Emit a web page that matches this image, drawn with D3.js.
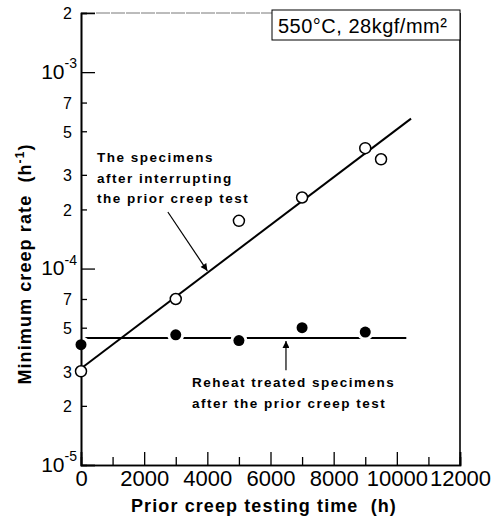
<!DOCTYPE html>
<html>
<head>
<meta charset="utf-8">
<script src="https://cdn.jsdelivr.net/npm/d3@7"></script>
<style>
  body { margin: 0; background: #fff; }
  .tick line { stroke: #000; stroke-width: 1.3; }
  .num { font-family: "Liberation Sans Narrow", "Arial Narrow", "Liberation Sans", sans-serif; fill: #000; }
  .note { font-family: "Liberation Sans", Arial, sans-serif; font-weight: bold; font-size: 13.5px; letter-spacing: 1.5px; fill: #000; }
  .title { font-family: "Liberation Sans", Arial, sans-serif; font-weight: bold; font-size: 18px; letter-spacing: 1.1px; fill: #000; }
</style>
</head>
<body>
<div id="vis"></div>
<script>
// specimens tested again after the prior creep test was interrupted
const interruptTime = [0, 3000, 5000, 7000, 9000, 9500];
const interruptRate = [3.0e-5, 7.0e-5, 1.75e-4, 2.3e-4, 4.1e-4, 3.6e-4];
// straight fit through the interrupted specimens
const interruptFitTime = [0, 10450];
const interruptFitRate = [3.1e-5, 5.8e-4];

// reheat treated specimens
const reheatTime = [0, 3000, 5000, 7000, 9000];
const reheatRate = [4.1e-5, 4.6e-5, 4.3e-5, 5.0e-5, 4.75e-5];
const reheatMeanTime = [0, 10300];
const reheatMeanRate = [4.43e-5, 4.43e-5];

const xMajorTicks = [0, 2000, 4000, 6000, 8000, 10000, 12000];
const xMinorTicks = [1000, 3000, 5000, 7000, 9000, 11000];
const yDecadeTicks = [1e-5, 1e-4, 1e-3];
const yMinorTicks = [2e-5, 3e-5, 5e-5, 7e-5, 2e-4, 3e-4, 5e-4, 7e-4, 2e-3];

const WIDTH = 495;
const HEIGHT = 522;
const MARGIN = { LEFT: 81, RIGHT: 35, TOP: 13, BOTTOM: 57 };

const x = d3.scaleLinear()
  .domain([0, 12000])
  .range([MARGIN.LEFT, WIDTH - MARGIN.RIGHT]);

const y = d3.scaleLog()
  .domain([1e-5, 2e-3])
  .range([HEIGHT - MARGIN.BOTTOM, MARGIN.TOP]);

const svg = d3.select("#vis")
  .append("svg")
  .attr("width", WIDTH)
  .attr("height", HEIGHT);

const pairs = (xs, ys) => xs.map((v, i) => [v, ys[i]]);
const line = d3.line().x(d => x(d[0])).y(d => y(d[1]));

// rate on the fitted line at a given time (log-linear)
function fitRate(t) {
  const l0 = Math.log10(interruptFitRate[0]);
  const l1 = Math.log10(interruptFitRate[1]);
  const f = (t - interruptFitTime[0]) / (interruptFitTime[1] - interruptFitTime[0]);
  return Math.pow(10, l0 + f * (l1 - l0));
}

// frame: faint top line, solid right side
svg.append("line")
  .attr("x1", x(0)).attr("x2", x(12000))
  .attr("y1", y(2e-3)).attr("y2", y(2e-3))
  .attr("stroke", "#555").attr("stroke-width", 0.8)
  .attr("stroke-dasharray", "14 1");
svg.append("line")
  .attr("x1", x(12000)).attr("x2", x(12000))
  .attr("y1", y(2e-3)).attr("y2", y(1e-5))
  .attr("stroke", "#000").attr("stroke-width", 1.6);

// reheat mean line, broken by white halos round the dots
svg.append("path")
  .datum(pairs(reheatMeanTime, reheatMeanRate))
  .attr("d", line)
  .attr("fill", "none")
  .attr("stroke", "#000")
  .attr("stroke-width", 2);

svg.append("g")
  .selectAll("circle")
  .data(pairs(reheatTime, reheatRate))
  .enter()
  .append("circle")
  .attr("cx", d => x(d[0]))
  .attr("cy", d => y(d[1]))
  .attr("r", 8.5)
  .attr("fill", "#fff");

svg.append("path")
  .datum(pairs(interruptFitTime, interruptFitRate))
  .attr("d", line)
  .attr("fill", "none")
  .attr("stroke", "#000")
  .attr("stroke-width", 2);

// x axis: long ticks every 2000 h with labels, short ones between
const xAxis = svg.append("g")
  .attr("transform", `translate(0,${y(1e-5)})`)
  .call(d3.axisBottom(x).tickValues(xMajorTicks).tickSize(-13).tickPadding(4).tickFormat(d3.format("d")));
xAxis.append("g")
  .call(d3.axisBottom(x).tickValues(xMinorTicks).tickSize(-8).tickFormat(""));
xAxis.selectAll(".domain").attr("stroke", "#000").attr("stroke-width", 1.6);
xAxis.selectAll(".tick text")
  .attr("class", "num")
  .attr("font-size", 22)
  .attr("dy", "0.78em");

// y axis: decades labelled 10^n, 2/3/5/7 in between
const yAxis = svg.append("g")
  .attr("transform", `translate(${x(0)},0)`)
  .call(d3.axisLeft(y).tickValues(yDecadeTicks).tickSize(-14).tickPadding(4).tickFormat(""));
yAxis.append("g")
  .call(d3.axisLeft(y).tickValues(yMinorTicks).tickSize(-6).tickPadding(9).tickFormat(d => String(Math.round(d / Math.pow(10, Math.floor(Math.log10(d) + 1e-9))))));
yAxis.selectAll(".domain").attr("stroke", "#000").attr("stroke-width", 1.6);
yAxis.selectAll(".tick text")
  .attr("class", "num")
  .attr("font-size", 16)
  .attr("dy", "0.36em");

yAxis.selectAll(".tick")
  .filter(d => yDecadeTicks.includes(d))
  .select("text")
  .attr("font-size", 21)
  .attr("dy", "0.3em")
  .each(function (d) {
    const t = d3.select(this);
    t.append("tspan").text("10");
    t.append("tspan")
      .attr("font-size", 14)
      .attr("dy", "-0.75em")
      .text("-" + Math.round(-Math.log10(d)));
  });

// markers
svg.append("g")
  .selectAll("circle")
  .data(pairs(reheatTime, reheatRate))
  .enter()
  .append("circle")
  .attr("cx", d => x(d[0]))
  .attr("cy", d => y(d[1]))
  .attr("r", 5.5)
  .attr("fill", "#000");

svg.append("g")
  .selectAll("circle")
  .data(pairs(interruptTime, interruptRate))
  .enter()
  .append("circle")
  .attr("cx", d => x(d[0]))
  .attr("cy", d => y(d[1]))
  .attr("r", 5.5)
  .attr("fill", "#fff")
  .attr("stroke", "#000")
  .attr("stroke-width", 1.5);

// arrows to the two series
svg.append("defs").append("marker")
  .attr("id", "head")
  .attr("viewBox", "0 0 10 10")
  .attr("refX", 10).attr("refY", 5)
  .attr("markerWidth", 9).attr("markerHeight", 7)
  .attr("markerUnits", "userSpaceOnUse")
  .attr("orient", "auto")
  .append("path")
  .attr("d", "M0,0 L10,5 L0,10 z")
  .attr("fill", "#000");

svg.append("line")
  .attr("x1", x(2750)).attr("y1", y(1.94e-4))
  .attr("x2", x(4000)).attr("y2", y(fitRate(4000)) - 2)
  .attr("stroke", "#000").attr("stroke-width", 1.2)
  .attr("marker-end", "url(#head)");

svg.append("line")
  .attr("x1", x(6490)).attr("y1", y(3.04e-5))
  .attr("x2", x(6490)).attr("y2", y(reheatMeanRate[0]) + 3)
  .attr("stroke", "#000").attr("stroke-width", 1.2)
  .attr("marker-end", "url(#head)");

// notes
const note1 = svg.append("text").attr("class", "note").attr("x", 97).attr("y", 162);
["The specimens", "after interrupting", "the prior creep test"].forEach((s, i) => {
  note1.append("tspan").attr("x", 97).attr("dy", i ? 20.5 : 0).text(s);
});
const note2 = svg.append("text").attr("class", "note").attr("x", 192).attr("y", 387);
["Reheat treated specimens", "after the prior creep test"].forEach((s, i) => {
  note2.append("tspan").attr("x", 192).attr("dy", i ? 21 : 0).text(s);
});

// test condition box
svg.append("rect")
  .attr("x", 272).attr("y", 10)
  .attr("width", x(12000) - 272).attr("height", 30)
  .attr("fill", "#fff").attr("stroke", "#000").attr("stroke-width", 1);
svg.append("text")
  .attr("x", 278).attr("y", 33)
  .attr("font-family", "Liberation Sans, Arial, sans-serif")
  .attr("font-size", 20)
  .attr("letter-spacing", 0.5)
  .text("550\u00B0C, 28kgf/mm\u00B2");

// axis titles
svg.append("text")
  .attr("class", "title")
  .attr("x", 264).attr("y", 512)
  .attr("text-anchor", "middle")
  .text("Prior creep testing time\u00A0\u00A0(h)");

const yTitle = svg.append("text")
  .attr("class", "title")
  .attr("transform", "translate(31,264) rotate(-90)")
  .attr("text-anchor", "middle");
yTitle.append("tspan").text("Minimum creep rate\u00A0\u00A0(h");
yTitle.append("tspan").attr("font-size", 12).attr("dy", -7).text("-1");
yTitle.append("tspan").attr("dy", 7).text(")");
</script>
</body>
</html>
